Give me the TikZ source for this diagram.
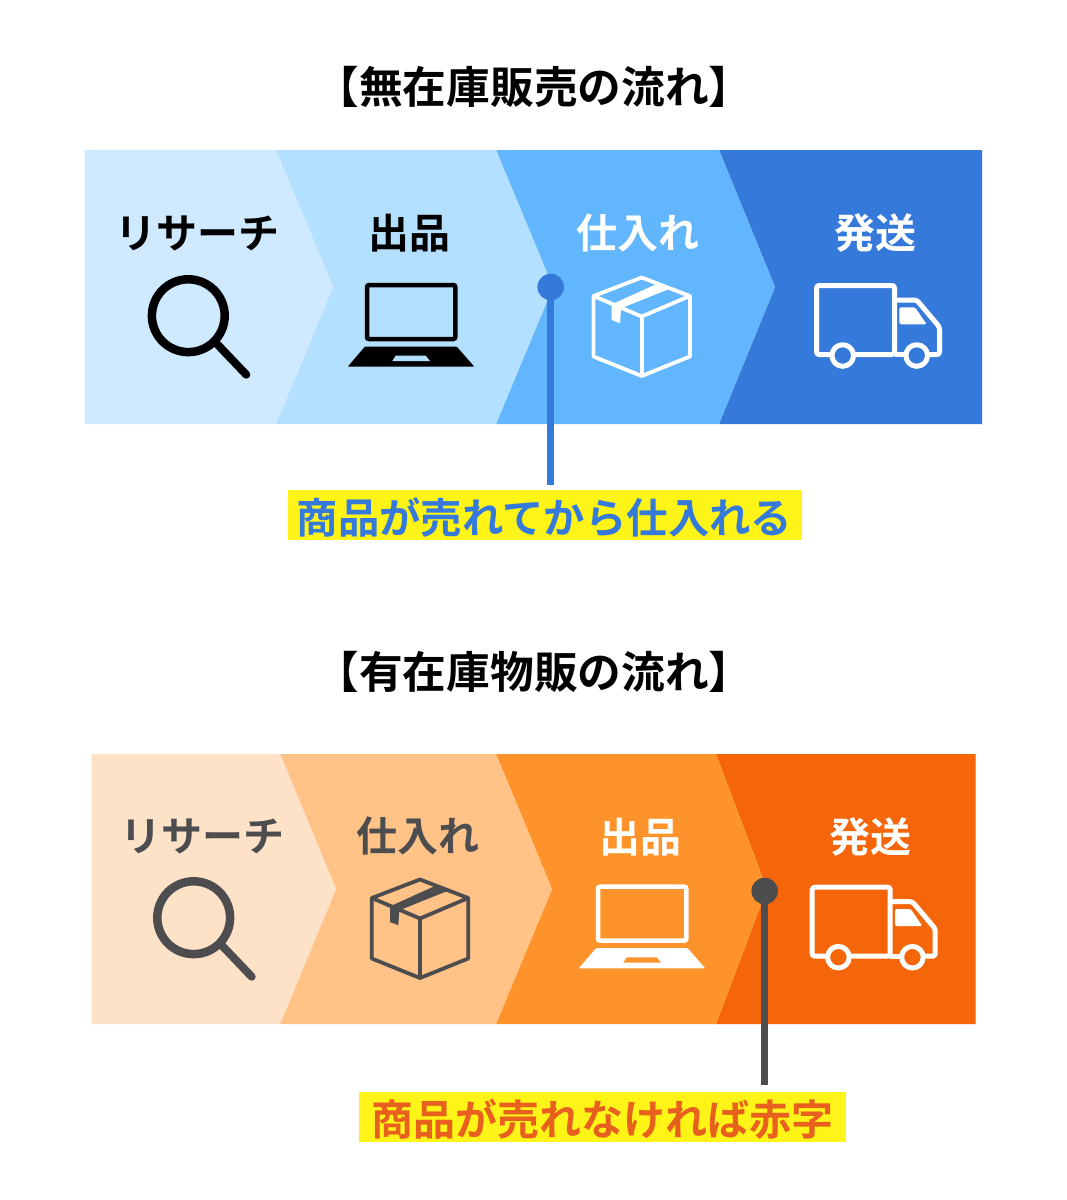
\documentclass[tikz,border=0pt]{standalone}
\usepackage{fontspec}
\setmainfont{Noto Sans CJK JP}[BoldFont={Noto Sans CJK JP Bold}]
\definecolor{bA}{HTML}{CFE9FF}
\definecolor{bB}{HTML}{B3E0FF}
\definecolor{bC}{HTML}{62B6FD}
\definecolor{bD}{HTML}{3579DB}
\definecolor{oA}{HTML}{FEE2C7}
\definecolor{oB}{HTML}{FFC388}
\definecolor{oC}{HTML}{FF932B}
\definecolor{oD}{HTML}{F5650A}
\definecolor{ink}{HTML}{4D4D4F}
\definecolor{hl}{HTML}{FFF418}
\definecolor{noteO}{HTML}{E8601E}
\tikzset{
  ttl/.style={font=\bfseries\fontsize{43.7}{44}\selectfont,inner sep=0pt,text=black},
  lab/.style={font=\bfseries\fontsize{41}{41}\selectfont,inner sep=0pt},
  notebox/.style={inner sep=0pt,fill=hl,minimum height=50pt},
  notetext/.style={font=\bfseries\fontsize{41.4}{42}\selectfont,inner sep=0pt},
  dotmark/.style={circle,inner sep=0pt,minimum size=26.6pt},
  stem/.style={line width=7pt},
  lens/.pic={
    \draw[line width=8.5pt,draw=\iconc] (0,0) circle (36.4);
    \draw[line width=8pt,line cap=round,draw=\iconc] (28,27.5) -- (58,59);
  },
  laptop/.pic={
    \draw[line width=4.5pt,draw=\iconc,rounded corners=2pt] (-44,-40) rectangle (44.3,14);
    \fill[fill=\iconc,rounded corners=1pt] (-46,21.5) -- (45.7,21.5) -- (63.3,41.7) -- (-63.3,41.7) -- cycle;
    \fill[fill=\iconh] (-15.3,30.7) -- (14.7,30.7) -- (19,36) -- (-18.7,36) -- cycle;
  },
  carton/.pic={
    \begin{scope}[draw=\iconc,line width=3.8pt,line join=round]
    \draw (0,-48.5) -- (48.2,-30) -- (48.2,30.5) -- (0,50) -- (-48.2,30.5) -- (-48.2,-30) -- cycle;
    \draw (-48.2,-30) -- (0,-9.5) -- (48.2,-30);
    \draw (0,-9.5) -- (0,50);
    \end{scope}
    \fill[fill=\iconc] (15,-42) -- (26.6,-36.7) -- (-20.7,-17.7) -- (-21.7,-2.7) -- (-30,-6) -- (-30,-21.7) -- cycle;
  },
  lorry/.pic={
    \begin{scope}[draw=\iconc,line width=5pt,line join=round]
    \draw[rounded corners=2.5pt] (-45,23.5) -- (-58.5,23.5) -- (-58.5,-45.5) -- (19.5,-45.5) -- (19.5,23.5) -- (-20,23.5);
    \draw[rounded corners=2.5pt] (19.5,-31) -- (41.7,-31) -- (64.5,-4) -- (64.5,23.5) -- (54,23.5);
    \draw (19.5,23.5) -- (30,23.5);
    \draw (-32.3,24.5) circle (10.8);
    \draw (41.7,24.5) circle (10.8);
    \end{scope}
    \fill[fill=\iconc,rounded corners=1.5pt] (24.3,-23.7) -- (40,-23.7) -- (51.7,-6.7) -- (24.3,-6.7) -- cycle;
  }
}
\newcommand{\iconc}{black}
\newcommand{\iconh}{bB}
\begin{document}
\begin{tikzpicture}[x=1pt,y=-1pt]
\useasboundingbox (0,0) rectangle (1067,1200);
\fill[white] (0,0) rectangle (1067,1200);
% blue band
\fill[bD] (719,150) -- (982,150) -- (982,424) -- (719,424) -- (775,287) -- cycle;
\fill[bC] (496,150) -- (719,150) -- (775,287) -- (719,424) -- (496,424) -- (553,287) -- cycle;
\fill[bB] (276,150) -- (496,150) -- (553,287) -- (496,424) -- (276,424) -- (333,287) -- cycle;
\fill[bA] (84.5,150) -- (276,150) -- (333,287) -- (276,424) -- (84.5,424) -- cycle;
% orange band
\fill[oD] (716,754) -- (975.5,754) -- (975.5,1024) -- (716,1024) -- (767,889) -- cycle;
\fill[oC] (496,754) -- (716,754) -- (767,889) -- (716,1024) -- (496,1024) -- (552,889) -- cycle;
\fill[oB] (280,754) -- (496,754) -- (552,889) -- (496,1024) -- (280,1024) -- (336,889) -- cycle;
\fill[oA] (91.5,754) -- (280,754) -- (336,889) -- (280,1024) -- (91.5,1024) -- cycle;
% titles
\node[ttl] (titleA) at (534,87) {【無在庫販売の流れ】};
\node[ttl] (titleB) at (534,672) {【有在庫物販の流れ】};
% blue labels
\node[lab,text=black] (a1) at (197.5,233) {リサーチ};
\node[lab,text=black] (a2) at (409.5,233) {出品};
\node[lab,text=white] (a3) at (638,233) {仕入れ};
\node[lab,text=white] (a4) at (875.5,233) {発送};
% orange labels
\node[lab,text=ink] (b1) at (202,836) {リサーチ};
\node[lab,text=ink] (b2) at (417.5,836) {仕入れ};
\node[lab,text=white] (b3) at (640.5,837) {出品};
\node[lab,text=white] (b4) at (870.5,837) {発送};
% blue icons
\renewcommand{\iconc}{black}\renewcommand{\iconh}{bB}
\pic at (188.3,315.7) {lens};
\pic at (411,325) {laptop};
\renewcommand{\iconc}{white}
\pic at (641.7,326) {carton};
\pic at (875,331) {lorry};
% orange icons
\renewcommand{\iconc}{ink}
\pic at (193.7,917.7) {lens};
\pic at (420,928) {carton};
\renewcommand{\iconc}{white}\renewcommand{\iconh}{oC}
\pic at (642,926.7) {laptop};
\pic at (870.7,932.7) {lorry};
% callouts
\node[notebox,minimum width=514pt] (noteA) at (545,515) {};
\node[notetext,text=bD] (noteAtext) at (544.5,517.5) {商品が売れてから仕入れる};
\node[notebox,minimum width=487pt] (noteB) at (602.5,1117) {};
\node[notetext,text=noteO,font=\bfseries\fontsize{42}{42}\selectfont] (noteBtext) at (602.5,1119) {商品が売れなければ赤字};
\node[dotmark,fill=bD] (dotA) at (550.7,287) {};
\node[dotmark,fill=ink] (dotB) at (764.7,891) {};
\draw[stem,draw=bD,shorten >=5pt] (dotA.center) -- (dotA.center |- noteA.north);
\draw[stem,draw=ink,shorten >=7pt] (dotB.center) -- (dotB.center |- noteB.north);
\end{tikzpicture}
\end{document}
